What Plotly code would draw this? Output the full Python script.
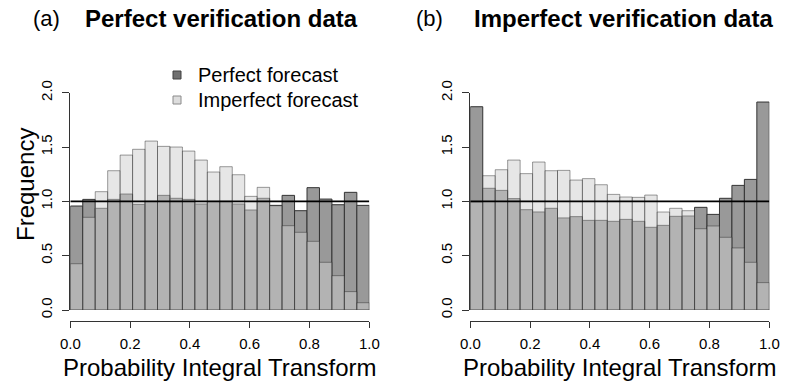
import numpy as np
import plotly.graph_objects as go

# ---- data ----
n_bins = 24
bin_edges = np.linspace(0, 1, n_bins + 1)

perfect_a = [0.957, 1.018, 0.936, 1.018, 1.067, 0.972, 1.000, 1.055, 1.028, 1.018, 0.975, 1.000,
             1.000, 0.975, 0.920, 1.028, 0.963, 1.055, 0.914, 1.126, 1.021, 0.969, 1.083, 0.963]
imperfect_a = [0.426, 0.853, 1.089, 1.282, 1.426, 1.479, 1.555, 1.506, 1.500, 1.463, 1.380, 1.270,
               1.319, 1.245, 1.046, 1.129, 0.960, 0.776, 0.715, 0.632, 0.439, 0.316, 0.169, 0.067]

perfect_b = [1.871, 1.120, 1.101, 1.025, 0.923, 0.902, 0.936, 0.847, 0.859, 0.825, 0.825, 0.816,
             0.834, 0.816, 0.761, 0.779, 0.862, 0.865, 0.945, 0.880, 1.028, 1.147, 1.202, 1.914]
imperfect_b = [0.995, 1.236, 1.291, 1.380, 1.255, 1.362, 1.282, 1.285, 1.196, 1.209, 1.153, 1.064,
               1.040, 1.037, 1.058, 0.902, 0.936, 0.914, 0.748, 0.773, 0.669, 0.571, 0.439, 0.252]

x_ticks = [0.0, 0.2, 0.4, 0.6, 0.8, 1.0]
x_ticktext = ["0.0", "0.2", "0.4", "0.6", "0.8", "1.0"]
y_ticks = [0.0, 0.5, 1.0, 1.5, 2.0]
y_ticktext = ["0.0", "0.5", "1.0", "1.5", "2.0"]
reference_level = 1.0

panel_labels = ["(a)", "(b)"]
panel_titles = ["Perfect verification data", "Imperfect verification data"]
x_title = "Probability Integral Transform"
y_title = "Frequency"
series_names = ["Perfect forecast", "Imperfect forecast"]

# ---- styling / layout ----
W, H = 788, 388
FONT = "Liberation Sans, Arial, Helvetica, sans-serif"
centers = (bin_edges[:-1] + bin_edges[1:]) / 2
width = bin_edges[1] - bin_edges[0]

def px_x(p):
    return p / W

def px_y(p):
    return 1 - p / H

dom_a = [px_x(70.3), px_x(369.3)]
dom_b = [px_x(470.3), px_x(769.3)]
dom_y = [px_y(310), px_y(92.7)]
x_axis_pos = px_y(320.7)

fig = go.Figure()

panels = [(perfect_a, imperfect_a, "x", "y"), (perfect_b, imperfect_b, "x2", "y2")]
for perf, imperf, xa, ya in panels:
    fig.add_trace(go.Bar(
        x=centers, y=perf, width=width, xaxis=xa, yaxis=ya,
        marker=dict(color="#999999", line=dict(color="#333333", width=1)),
        showlegend=False, hoverinfo="skip"))
    fig.add_trace(go.Bar(
        x=centers, y=imperf, width=width, xaxis=xa, yaxis=ya,
        marker=dict(color="rgba(205,205,205,0.5)", line=dict(color="rgba(40,40,40,0.45)", width=1)),
        showlegend=False, hoverinfo="skip"))

# dummy traces to show the free (offset) x axes
fig.add_trace(go.Scatter(x=[0, 1], y=[0, 0], xaxis="x3", yaxis="y", mode="none",
                         showlegend=False, hoverinfo="skip"))
fig.add_trace(go.Scatter(x=[0, 1], y=[0, 0], xaxis="x4", yaxis="y2", mode="none",
                         showlegend=False, hoverinfo="skip"))

hidden_x = dict(range=[0, 1], showline=False, showticklabels=False, ticks="",
                showgrid=False, zeroline=False, fixedrange=True, automargin=False)
free_x = dict(range=[0, 1], anchor="free", position=x_axis_pos, showline=True, linecolor="#333333",
              linewidth=1, ticks="outside", ticklen=6, tickcolor="#333333", tickwidth=1,
              tickvals=x_ticks, ticktext=x_ticktext, showgrid=False, zeroline=False, automargin=False,
              tickfont=dict(family=FONT, size=15, color="black"), ticklabelstandoff=3)
y_ax = dict(range=[0, 2.0], domain=dom_y, showline=True, linecolor="#333333", linewidth=1,
            ticks="outside", ticklen=7, tickcolor="#333333", tickwidth=1, automargin=False,
            tickvals=y_ticks, ticktext=y_ticktext, tickangle=-90, showgrid=False, zeroline=False,
            tickfont=dict(family=FONT, size=15, color="black"), ticklabelstandoff=4)

fig.update_layout(
    template="none",
    width=W, height=H,
    margin=dict(l=0, r=0, t=0, b=0, pad=0, autoexpand=False),
    paper_bgcolor="white", plot_bgcolor="white",
    barmode="overlay", bargap=0,
    font=dict(family=FONT, color="black"),
    xaxis=dict(domain=dom_a, anchor="y", **hidden_x),
    xaxis2=dict(domain=dom_b, anchor="y2", **hidden_x),
    xaxis3=dict(overlaying="x", **free_x),
    xaxis4=dict(overlaying="x2", **free_x),
    yaxis=dict(anchor="x", **y_ax),
    yaxis2=dict(anchor="x2", **y_ax),
    showlegend=False,
)

# reference line at 1
for xa, ya in [("x", "y"), ("x2", "y2")]:
    fig.add_shape(type="line", xref=xa, yref=ya, x0=0, x1=1, y0=reference_level, y1=reference_level,
                  line=dict(color="black", width=1.6), layer="above")

# legend (drawn manually, R style)
legend_fill = ["#707070", "#dddddd"]
legend_edge = ["#404040", "#8a8a8a"]
legend_rows = [75, 100]
anns = []
for name, fc, ec, yr in zip(series_names, legend_fill, legend_edge, legend_rows):
    fig.add_shape(type="rect", xref="paper", yref="paper",
                  x0=px_x(173), x1=px_x(181), y0=px_y(yr + 4), y1=px_y(yr - 4),
                  fillcolor=fc, line=dict(color=ec, width=1), layer="above")
    anns.append(dict(text=name, x=px_x(196), y=px_y(yr), xref="paper", yref="paper",
                     xanchor="left", yanchor="middle", showarrow=False,
                     font=dict(family=FONT, size=20, color="black")))

# titles
for i, (lab, ttl) in enumerate(zip(panel_labels, panel_titles)):
    lab_x = [46, 429.5][i]
    ttl_x = [83.3, 471.7][i]
    anns.append(dict(text=lab, x=px_x(lab_x), y=px_y(18), xref="paper", yref="paper",
                     xanchor="center", yanchor="middle", showarrow=False,
                     font=dict(family=FONT, size=22, color="black")))
    anns.append(dict(text="<b>" + ttl + "</b>", x=px_x(ttl_x), y=px_y(18), xref="paper", yref="paper",
                     xanchor="left", yanchor="middle", showarrow=False,
                     font=dict(family=FONT, size=24, color="black")))
    xc = [219.8, 619.8][i]
    anns.append(dict(text=x_title, x=px_x(xc), y=px_y(367), xref="paper", yref="paper",
                     xanchor="center", yanchor="middle", showarrow=False,
                     font=dict(family=FONT, size=24, color="black")))
anns.append(dict(text=y_title, x=px_x(25), y=px_y(185), xref="paper", yref="paper",
                 xanchor="center", yanchor="middle", showarrow=False, textangle=-90,
                 font=dict(family=FONT, size=24, color="black")))
fig.update_layout(annotations=anns)

fig.write_html("out.html", config={"displayModeBar": False, "staticPlot": True},
               post_script="document.body.style.margin='0px';")
